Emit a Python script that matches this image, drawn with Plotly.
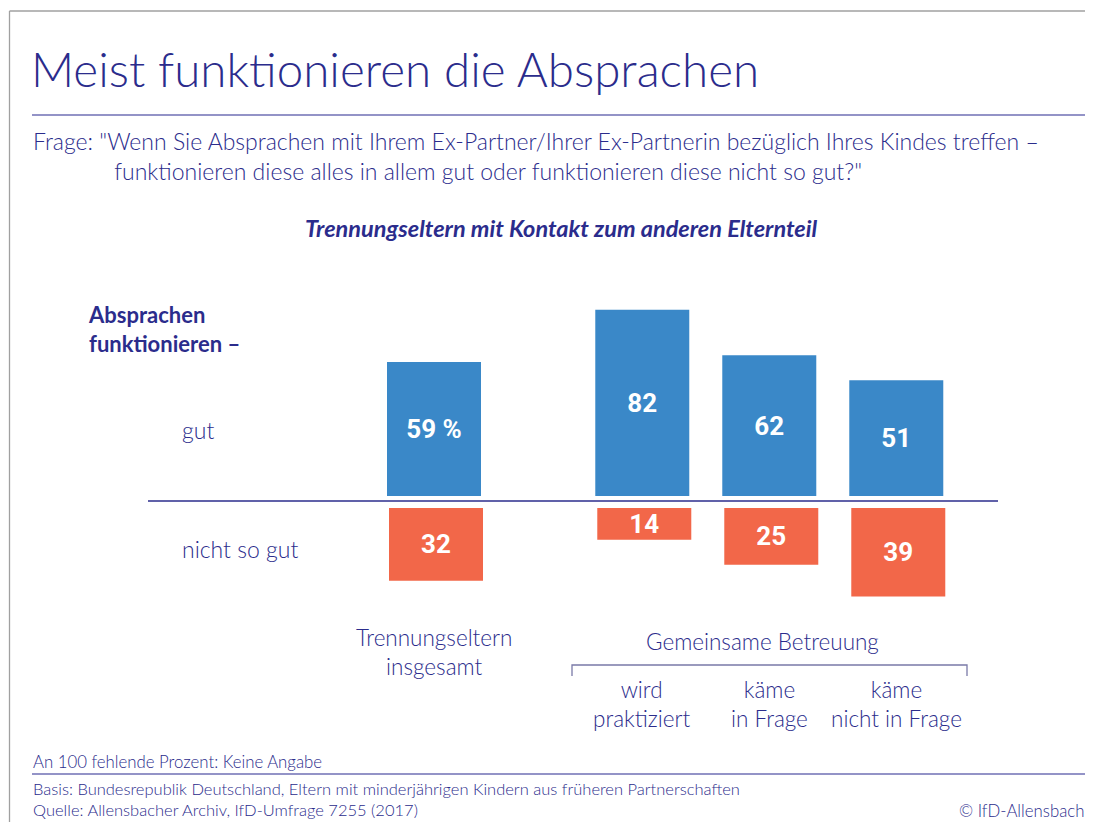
import plotly.graph_objects as go

# ---- data ----
categories = ["Trennungseltern<br>insgesamt", "wird<br>praktiziert", "käme<br>in Frage", "käme<br>nicht in Frage"]
gut = [59, 82, 62, 51]
nicht_so_gut = [32, 14, 25, 39]
group_label = "Gemeinsame Betreuung"

# ---- style / layout constants ----
OFF = 8                      # page body margin in the browser
W, H = 1093 - OFF, 822 - OFF
NAVY = "#2b2c8c"
BLUE = "#3a88c8"
ORANGE = "#f26749"
RULE = "#6f6fb5"
FONT = "Lato"
NUMFONT = "Roboto"
BODY_W = 300

PX_PER_UNIT_Y = 2.27
Y0_PX = 501 - OFF            # figure pixel row of zero line
PX_PER_UNIT_X = 127.0
X0_PX = 434 - OFF            # figure pixel column of first bar centre
GROUP_GAP = 0.64             # extra spacing between first bar and the group
BAR_W = 94 / PX_PER_UNIT_X
GAP_UP = 5 / PX_PER_UNIT_Y
GAP_DN = 7 / PX_PER_UNIT_Y

xpos = [0.0] + [1 + GROUP_GAP + i for i in range(len(categories) - 1)]


def px(x):
    """screen pixel column -> paper x"""
    return (x - OFF) / W


def py(y):
    """screen pixel row -> paper y"""
    return 1 - (y - OFF) / H


fig = go.Figure()
fig.add_trace(go.Bar(
    x=xpos, y=gut, base=[GAP_UP] * len(gut), width=BAR_W,
    marker=dict(color=BLUE, line=dict(width=0)),
    text=[f"{v} %" if i == 0 else str(v) for i, v in enumerate(gut)],
    textposition="inside", insidetextanchor="middle", textangle=0,
    textfont=dict(color="white", size=26, family=NUMFONT, weight="bold"),
    hoverinfo="skip", showlegend=False,
))
fig.add_trace(go.Bar(
    x=[x + 2 / PX_PER_UNIT_X for x in xpos], y=[-v for v in nicht_so_gut],
    base=[-GAP_DN] * len(nicht_so_gut), width=BAR_W,
    marker=dict(color=ORANGE, line=dict(width=0)),
    text=[str(v) for v in nicht_so_gut],
    textposition="inside", insidetextanchor="middle", textangle=0,
    textfont=dict(color="white", size=26, family=NUMFONT, weight="bold"),
    hoverinfo="skip", showlegend=False,
))

xr = [-X0_PX / PX_PER_UNIT_X, (W - X0_PX) / PX_PER_UNIT_X]
yr = [-(H - Y0_PX) / PX_PER_UNIT_Y, Y0_PX / PX_PER_UNIT_Y]

annotations = []


def txt(text, x, y, size, xanchor="left", bold=False, italic=False, color=NAVY, xref="paper", weight=None):
    annotations.append(dict(
        text=text, x=x if xref != "paper" else px(x), y=py(y), xref=xref, yref="paper",
        xanchor=xanchor, yanchor="middle", showarrow=False,
        align="center" if xanchor == "center" else "left",
        font=dict(family=FONT, size=size, color=color,
                  weight=weight if weight else ("bold" if bold else "normal"),
                  style="italic" if italic else "normal"),
    ))


NB = "&nbsp;"
txt("Meist funktionieren die Absprachen", 29, 68, 47.5, weight=300)
txt('Frage: "Wenn Sie Absprachen mit Ihrem Ex-Partner/Ihrer Ex-Partnerin bezüglich Ihres Kindes treffen –<br>'
    + NB * 13 + 'funktionieren diese alles in allem gut oder funktionieren diese nicht so gut?"',
    31, 156, 23, weight=BODY_W)
txt("Trennungseltern mit Kontakt zum anderen Elternteil", 561, 228, 23.5, xanchor="center", bold=True, italic=True)
txt("Absprachen<br>funktionieren –", 86, 329, 22, bold=True)
txt("gut", 180, 430, 23, weight=BODY_W)
txt("nicht so gut", 180, 549, 23, weight=BODY_W)

# category labels under bars
for i, (x, c) in enumerate(zip(xpos, categories)):
    y_mid = 652 if i == 0 else 704
    txt(c, x, y_mid, 22.5, xanchor="center", xref="x", weight=BODY_W)
txt(group_label, (xpos[1] + xpos[-1]) / 2 - 7 / PX_PER_UNIT_X, 641, 22.5, xanchor="center", xref="x", weight=BODY_W)

txt("An 100 fehlende Prozent: Keine Angabe", 31, 761, 16.8, weight=BODY_W)
txt("Basis: Bundesrepublik Deutschland, Eltern mit minderjährigen Kindern aus früheren Partnerschaften<br>"
    "Quelle: Allensbacher Archiv, IfD-Umfrage 7255 (2017)", 31, 799.5, 16.5, weight=BODY_W)
txt("© IfD-Allensbach", 1086, 810, 16.8, xanchor="right", weight=BODY_W)

shapes = [
    # border
    dict(type="line", xref="paper", yref="paper", x0=px(9.5), x1=px(9.5), y0=py(11), y1=0,
         line=dict(color="#a0a0a0", width=1.3)),
    dict(type="line", xref="paper", yref="paper", x0=px(9.5), x1=1, y0=py(11), y1=py(11),
         line=dict(color="#a0a0a0", width=1.3)),
    # rules
    dict(type="line", xref="paper", yref="paper", x0=px(32), x1=1, y0=py(115), y1=py(115),
         line=dict(color=RULE, width=1.3)),
    dict(type="line", xref="paper", yref="paper", x0=px(32), x1=1, y0=py(774), y1=py(774),
         line=dict(color=RULE, width=1.3)),
    # zero line
    dict(type="line", xref="paper", yref="y", x0=px(148), x1=px(998), y0=0, y1=0,
         line=dict(color=NAVY, width=1.5)),
    # bracket
    dict(type="path", xref="paper", yref="paper",
         path=f"M {px(572)} {py(676)} L {px(572)} {py(665)} L {px(967)} {py(665)} L {px(967)} {py(676)}",
         line=dict(color="#7a7aa8", width=1.3)),
]

fig.update_layout(
    width=W, height=H,
    margin=dict(l=0, r=0, t=0, b=0, pad=0),
    paper_bgcolor="white", plot_bgcolor="white",
    xaxis=dict(range=xr, visible=False, fixedrange=True),
    yaxis=dict(range=yr, visible=False, fixedrange=True),
    barmode="overlay",
    uniformtext=dict(minsize=26, mode="show"),
    annotations=annotations,
    shapes=shapes,
)

fig.write_html("out.html")
